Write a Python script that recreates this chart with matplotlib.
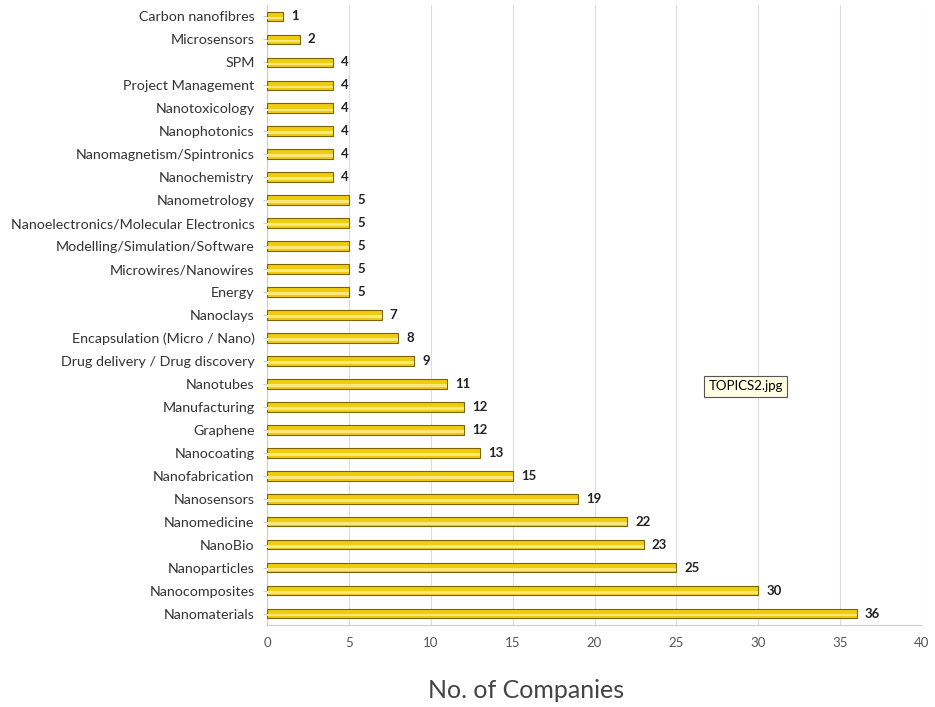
import matplotlib.pyplot as plt
import numpy as np

topics = ["Carbon nanofibres", "Microsensors", "SPM", "Project Management",
          "Nanotoxicology", "Nanophotonics", "Nanomagnetism/Spintronics",
          "Nanochemistry", "Nanometrology", "Nanoelectronics/Molecular Electronics",
          "Modelling/Simulation/Software", "Microwires/Nanowires", "Energy",
          "Nanoclays", "Encapsulation (Micro / Nano)", "Drug delivery / Drug discovery",
          "Nanotubes", "Manufacturing", "Graphene", "Nanocoating", "Nanofabrication",
          "Nanosensors", "Nanomedicine", "NanoBio", "Nanoparticles",
          "Nanocomposites", "Nanomaterials"]
companies = [1, 2, 4, 4, 4, 4, 4, 4, 5, 5, 5, 5, 5, 7, 8, 9, 11, 12, 12, 13,
             15, 19, 22, 23, 25, 30, 36]
xticks = [0, 5, 10, 15, 20, 25, 30, 35, 40]

plt.rcParams['font.family'] = ['Lato', 'DejaVu Sans']

fig = plt.figure(figsize=(9.35, 7.07), dpi=100)
ax = fig.add_axes([0.2856, 0.116, 0.7005, 0.877])

ypos = np.arange(len(topics))
ax.barh(ypos, companies, height=0.42, color='#F0CC10', edgecolor='#7A6400',
        linewidth=0.8, zorder=3)
# lighter highlight band on each bar
ax.barh(ypos + 0.07, companies, height=0.12, color='#FBE87A', linewidth=0, zorder=4)

for y, v in zip(ypos, companies):
    ax.text(v + 0.5, y, str(v), va='center', ha='left', fontsize=9.5,
            fontweight='bold', color='#222222')

ax.set_ylim(len(topics) - 0.5, -0.5)
ax.set_xlim(0, 40)
ax.set_xticks(xticks)
ax.set_yticks(ypos)
ax.set_yticklabels(topics, fontsize=10.3, color='#333333')
ax.tick_params(axis='x', labelsize=9.5, labelcolor='#555555', length=0, pad=9)
ax.tick_params(axis='y', length=3, color='#cccccc', pad=6)

ax.grid(axis='x', color='#dddddd', linewidth=0.8, zorder=0)
for s in ['top', 'right']:
    ax.spines[s].set_visible(False)
for s in ['left', 'bottom']:
    ax.spines[s].set_color('#cccccc')

ax.set_xlabel('No. of Companies', fontsize=18, color='#444444')
ax.xaxis.set_label_coords(0.395, -0.087)

ax.text(26.95, 16.1, 'TOPICS2.jpg', fontsize=9.5, va='center', ha='left',
        bbox=dict(boxstyle='square,pad=0.35', facecolor='#FFFFE1',
                  edgecolor='#555555', linewidth=0.8), zorder=6)

fig.savefig('out.png', dpi=100)
